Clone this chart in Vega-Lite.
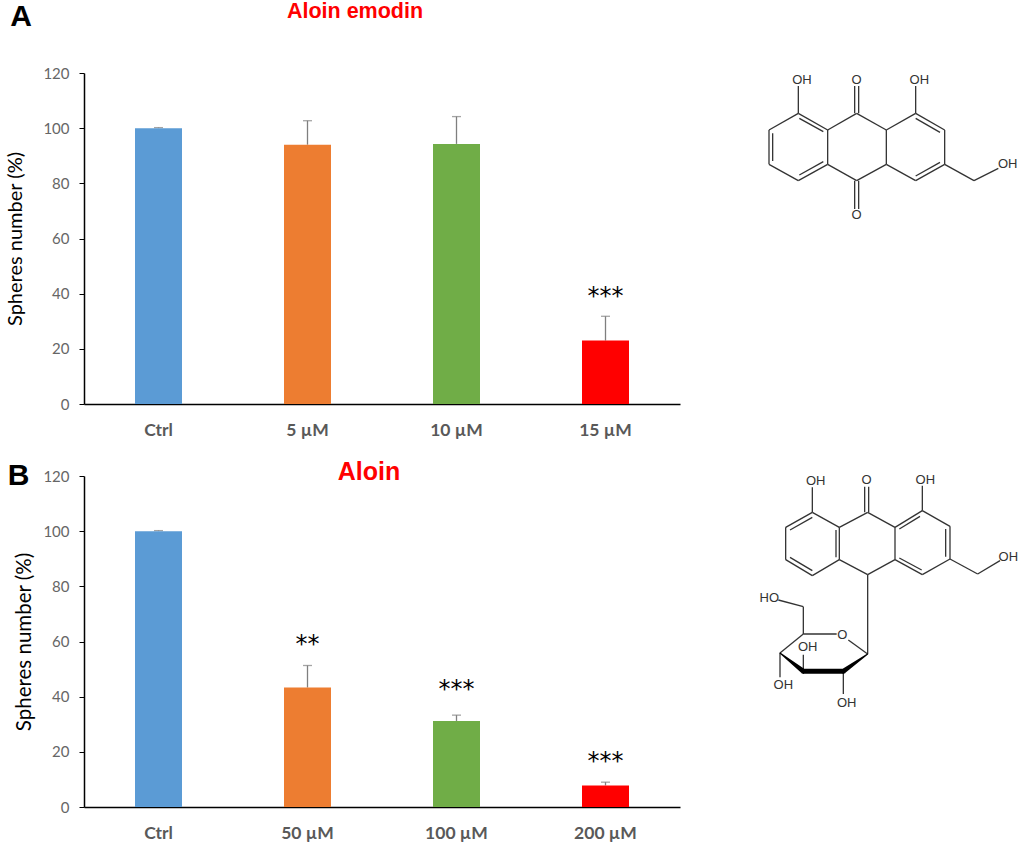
{"$schema":"https://vega.github.io/schema/vega-lite/v6.json","padding":{"left":5,"top":1,"right":0,"bottom":0},"background":"white","config":{"view":{"stroke":null},"axis":{"grid":false}},"bounds":"flush","spacing":{"row":72,"column":60},"columns":2,"resolve":{"scale":{"color":"independent"}},"concat":[
{"width":596,"height":331,
"data":{"values":[{"group":"Ctrl","value":100,"upper":100.2},{"group":"5 µM","value":94,"upper":102.7},{"group":"10 µM","value":94.3,"upper":104.2},{"group":"15 µM","value":23,"upper":31.8,"sig":"***","sigY":40}]},
"encoding":{"x":{"field":"group","type":"nominal","sort":null,"scale":{"paddingInner":0,"paddingOuter":0},"axis":{"title":null,"labelAngle":0,"ticks":false,"domainColor":"black","domainWidth":1.5,"labelFont":"Lato","labelFontWeight":"bold","labelFontSize":17.5,"labelColor":"#595959","labelPadding":17}}},
"layer":[
{"mark":{"type":"rule","color":"#7f7f7f","strokeWidth":1.3},"encoding":{"y":{"field":"value","type":"quantitative"},"y2":{"field":"upper"}}},
{"mark":{"type":"tick","color":"#7f7f7f","size":9,"thickness":1.3},"encoding":{"y":{"field":"upper","type":"quantitative"}}},
{"mark":{"type":"bar","size":47},"encoding":{"y":{"field":"value","type":"quantitative","scale":{"domain":[0,120]},"axis":{"title":"Spheres number (%)","titleFont":"Lato","titleFontWeight":"normal","titleFontSize":20,"titleColor":"black","titlePadding":17,"values":[0,20,40,60,80,100,120],"tickSize":5,"tickColor":"black","domainColor":"black","domainWidth":1.5,"labelFont":"Lato","labelFontSize":15,"labelColor":"#666666","labelPadding":10}},"color":{"field":"group","type":"nominal","sort":null,"scale":{"range":["#5b9bd5","#ed7d31","#70ad47","#ff0000"]},"legend":null}}},
{"transform":[{"filter":"datum.sig"}],"mark":{"type":"text","font":"DejaVu Sans","fontSize":24,"color":"black","dy":3},"encoding":{"y":{"field":"sigY","type":"quantitative"},"text":{"field":"sig"}}},
{"data":{"values":[{"group":"Ctrl","pos":140.3,"letter":"A"}]},"mark":{"type":"text","font":"Liberation Sans","fontWeight":"bold","fontSize":30,"color":"black","dx":-137.5},"encoding":{"y":{"field":"pos","type":"quantitative"},"text":{"field":"letter"}}},
{"data":{"values":[{"group":"Ctrl","pos":142.1,"name":"Aloin emodin"}]},"mark":{"type":"text","font":"Liberation Sans","fontWeight":"bold","fontSize":21.5,"color":"#ff0000","dx":196.5},"encoding":{"y":{"field":"pos","type":"quantitative"},"text":{"field":"name"}}}
],"resolve":{"scale":{"y":"shared"}}},
{"width":280,"height":331,"data":{"values":[{"a":175,"b":160,"c":263,"d":210},{"a":263,"b":210,"c":263,"d":313},{"a":263,"b":313,"c":175,"d":362},{"a":175,"b":362,"c":87,"d":313},{"a":87,"b":313,"c":87,"d":210},{"a":87,"b":210,"c":175,"d":160},{"a":263,"b":210,"c":350,"d":160},{"a":350,"b":160,"c":439,"d":210},{"a":439,"b":210,"c":439,"d":313},{"a":439,"b":313,"c":350,"d":362},{"a":350,"b":362,"c":263,"d":313},{"a":439,"b":210,"c":527,"d":160},{"a":527,"b":160,"c":614,"d":210},{"a":614,"b":210,"c":614,"d":313},{"a":614,"b":313,"c":527,"d":362},{"a":527,"b":362,"c":439,"d":313},{"a":614,"b":313,"c":702,"d":362},{"a":702,"b":362,"c":775,"d":325},{"a":175,"b":160,"c":175,"d":78},{"a":527,"b":160,"c":527,"d":78},{"a":344,"b":160,"c":344,"d":78},{"a":356,"b":160,"c":356,"d":78},{"a":344,"b":362,"c":344,"d":447},{"a":356,"b":362,"c":356,"d":447},{"a":178,"b":175,"c":250,"d":215},{"a":98,"b":220,"c":98,"d":303},{"a":178,"b":345,"c":250,"d":305},{"a":527,"b":175,"c":600,"d":217},{"a":600,"b":307,"c":527,"d":348}]},
"layer":[{"mark":{"type":"rule","color":"#333333","strokeWidth":1.3},"encoding":{"x":{"field":"a","type":"quantitative","scale":{"domain":[0,840],"nice":false,"zero":false},"axis":null},"y":{"field":"b","type":"quantitative","scale":{"domain":[1032,39],"nice":false,"zero":false},"axis":null},"x2":{"field":"c"},"y2":{"field":"d"}}},
{"data":{"values":[{"a":186,"b":60,"t":"OH"},{"a":350,"b":60,"t":"O"},{"a":538,"b":60,"t":"OH"},{"a":350,"b":465,"t":"O"},{"a":803,"b":313,"t":"OH"}]},"mark":{"type":"text","font":"Liberation Sans","fontSize":13,"color":"#333333"},"encoding":{"x":{"field":"a","type":"quantitative"},"y":{"field":"b","type":"quantitative"},"text":{"field":"t"}}}]},
{"width":596,"height":331,
"data":{"values":[{"group":"Ctrl","value":100,"upper":100.2},{"group":"50 µM","value":43.3,"upper":51.3,"sig":"**","sigY":60},{"group":"100 µM","value":31.2,"upper":33.3,"sig":"***","sigY":43.6},{"group":"200 µM","value":7.8,"upper":9,"sig":"***","sigY":17.5}]},
"encoding":{"x":{"field":"group","type":"nominal","sort":null,"scale":{"paddingInner":0,"paddingOuter":0},"axis":{"title":null,"labelAngle":0,"ticks":false,"domainColor":"black","domainWidth":1.5,"labelFont":"Lato","labelFontWeight":"bold","labelFontSize":17.5,"labelColor":"#595959","labelPadding":17}}},
"layer":[
{"mark":{"type":"rule","color":"#7f7f7f","strokeWidth":1.3},"encoding":{"y":{"field":"value","type":"quantitative"},"y2":{"field":"upper"}}},
{"mark":{"type":"tick","color":"#7f7f7f","size":9,"thickness":1.3},"encoding":{"y":{"field":"upper","type":"quantitative"}}},
{"mark":{"type":"bar","size":47},"encoding":{"y":{"field":"value","type":"quantitative","scale":{"domain":[0,120]},"axis":{"title":"Spheres number (%)","titleFont":"Lato","titleFontWeight":"normal","titleFontSize":20.5,"titleColor":"black","titlePadding":8,"values":[0,20,40,60,80,100,120],"tickSize":5,"tickColor":"black","domainColor":"black","domainWidth":1.5,"labelFont":"Lato","labelFontSize":15,"labelColor":"#666666","labelPadding":10}},"color":{"field":"group","type":"nominal","sort":null,"scale":{"range":["#5b9bd5","#ed7d31","#70ad47","#ff0000"]},"legend":null}}},
{"transform":[{"filter":"datum.sig"}],"mark":{"type":"text","font":"DejaVu Sans","fontSize":24,"color":"black","dy":3},"encoding":{"y":{"field":"sigY","type":"quantitative"},"text":{"field":"sig"}}},
{"data":{"values":[{"group":"Ctrl","pos":120,"letter":"B"}]},"mark":{"type":"text","font":"Liberation Sans","fontWeight":"bold","fontSize":30,"color":"black","dx":-140},"encoding":{"y":{"field":"pos","type":"quantitative"},"text":{"field":"letter"}}},
{"data":{"values":[{"group":"Ctrl","pos":121.5,"name":"Aloin"}]},"mark":{"type":"text","font":"Liberation Sans","fontWeight":"bold","fontSize":25,"color":"#ff0000","dx":210.5},"encoding":{"y":{"field":"pos","type":"quantitative"},"text":{"field":"name"}}}
],"resolve":{"scale":{"y":"shared"}}},
{"width":280,"height":331,"data":{"values":[{"a":217,"b":145,"c":298,"d":190},{"a":298,"b":190,"c":298,"d":287},{"a":298,"b":287,"c":217,"d":335},{"a":217,"b":335,"c":137,"d":287},{"a":137,"b":287,"c":137,"d":190},{"a":137,"b":190,"c":217,"d":145},{"a":298,"b":190,"c":383,"d":145},{"a":383,"b":145,"c":465,"d":190},{"a":465,"b":190,"c":465,"d":287},{"a":465,"b":287,"c":383,"d":332},{"a":383,"b":332,"c":298,"d":287},{"a":465,"b":190,"c":547,"d":140},{"a":547,"b":140,"c":630,"d":187},{"a":630,"b":187,"c":630,"d":285},{"a":630,"b":285,"c":547,"d":332},{"a":547,"b":332,"c":465,"d":287},{"a":630,"b":285,"c":713,"d":330},{"a":713,"b":330,"c":780,"d":290},{"a":217,"b":145,"c":217,"d":70},{"a":547,"b":140,"c":547,"d":65},{"a":374,"b":145,"c":374,"d":68},{"a":386,"b":145,"c":386,"d":68},{"a":217,"b":160,"c":150,"d":198},{"a":288,"b":198,"c":288,"d":280},{"a":150,"b":280,"c":217,"d":320},{"a":478,"b":195,"c":540,"d":157},{"a":478,"b":282,"c":545,"d":318},{"a":617,"b":195,"c":617,"d":278},{"a":383,"b":332,"c":383,"d":570},{"a":383,"b":570,"c":325,"d":528},{"a":190,"b":510,"c":290,"d":510},{"a":190,"b":510,"c":120,"d":567},{"a":190,"b":510,"c":190,"d":428},{"a":190,"b":428,"c":115,"d":408},{"a":120,"b":567,"c":120,"d":640},{"a":190,"b":622,"c":190,"d":572},{"a":310,"b":622,"c":310,"d":690}]},
"layer":[{"mark":{"type":"rule","color":"#333333","strokeWidth":1.3},"encoding":{"x":{"field":"a","type":"quantitative","scale":{"domain":[0,840],"nice":false,"zero":false},"axis":null},"y":{"field":"b","type":"quantitative","scale":{"domain":[1029,36],"nice":false,"zero":false},"axis":null},"x2":{"field":"c"},"y2":{"field":"d"}}},
{"data":{"values":[{"a":120,"b":567,"w":1,"o":1},{"a":190,"b":622,"w":5,"o":2},{"a":310,"b":622,"w":5,"o":3},{"a":383,"b":570,"w":1,"o":4}]},"mark":{"type":"trail","color":"black"},"encoding":{"x":{"field":"a","type":"quantitative"},"y":{"field":"b","type":"quantitative"},"order":{"field":"o","type":"quantitative"},"size":{"field":"w","type":"quantitative","scale":{"domain":[1,5],"range":[1,5]},"legend":null}}},
{"data":{"values":[{"a":227,"b":50,"t":"OH"},{"a":380,"b":48,"t":"O"},{"a":556,"b":47,"t":"OH"},{"a":805,"b":280,"t":"OH"},{"a":88,"b":403,"t":"HO"},{"a":307,"b":513,"t":"O"},{"a":203,"b":550,"t":"OH"},{"a":130,"b":662,"t":"OH"},{"a":320,"b":716,"t":"OH"}]},"mark":{"type":"text","font":"Liberation Sans","fontSize":13,"color":"#333333"},"encoding":{"x":{"field":"a","type":"quantitative"},"y":{"field":"b","type":"quantitative"},"text":{"field":"t"}}}]}
]}
